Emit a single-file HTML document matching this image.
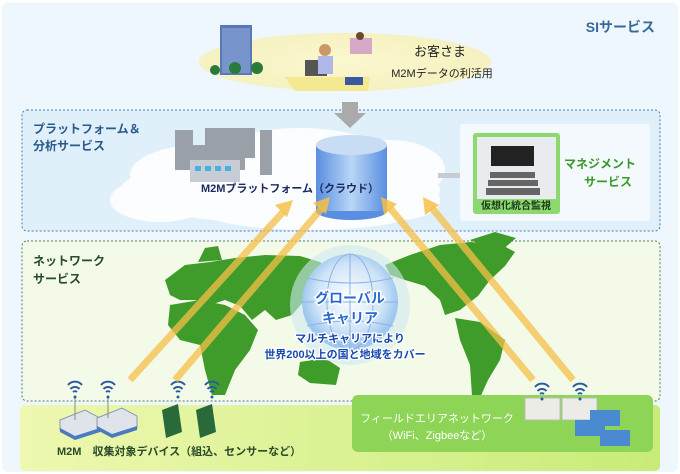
<!DOCTYPE html>
<html><head><meta charset="utf-8"><style>
body{margin:0;background:#fff;}
svg{display:block}
text{font-family:"Liberation Sans","Noto Sans CJK JP",sans-serif;}
</style></head><body>
<svg width="680" height="474" viewBox="0 0 680 474" xmlns="http://www.w3.org/2000/svg">
<defs>
<radialGradient id="ell" cx="50%" cy="50%" r="50%"><stop offset="0" stop-color="#fbf8d0"/><stop offset="1" stop-color="#f5f1c0"/></radialGradient>
<linearGradient id="cyl" x1="0" x2="1"><stop offset="0" stop-color="#5a8ee0"/><stop offset="0.5" stop-color="#b8d6f6"/><stop offset="1" stop-color="#5a8ee0"/></linearGradient>
<linearGradient id="band" x1="0" x2="1"><stop offset="0" stop-color="#eef8b0"/><stop offset="1" stop-color="#c8ec78"/></linearGradient>
<radialGradient id="globe" cx="50%" cy="45%" r="50%"><stop offset="0" stop-color="#ffffff"/><stop offset="0.7" stop-color="#cfe4f8"/><stop offset="1" stop-color="#9ec6ee"/></radialGradient>
<g id="wifi" fill="none" stroke="#2a5aa0" stroke-width="2"><path d="M-7,-4 a9,9 0 0 1 14,0"/><path d="M-4.5,0 a6,6 0 0 1 9,0"/><path d="M-2,3 a3,3 0 0 1 4,0"/><circle cx="0" cy="8" r="1.5" fill="#2a5aa0" stroke="none"/></g>
</defs>
<rect x="2" y="3" width="676" height="469" rx="6" fill="#eef7fd"/>
<text x="655" y="32" font-size="14" font-weight="bold" fill="#3a6a9a" text-anchor="end">SIサービス</text>
<ellipse cx="345" cy="62" rx="146" ry="29" fill="url(#ell)"/>
<rect x="220" y="25" width="32" height="50" fill="#5a78b8"/><rect x="222" y="28" width="28" height="45" fill="#8aa8d8" opacity=".6"/>
<circle cx="215" cy="70" r="5" fill="#2a7a3a"/><circle cx="235" cy="68" r="6" fill="#2a7a3a"/><circle cx="257" cy="68" r="6" fill="#2a7a3a"/>
<polygon points="285,77 370,77 368,91 295,91" fill="#f4e890"/>
<rect x="305" y="60" width="22" height="16" fill="#555"/><circle cx="325" cy="50" r="6" fill="#c89a6a"/><rect x="318" y="56" width="15" height="18" fill="#b0b8e8"/>
<rect x="350" y="38" width="22" height="16" fill="#d8a8c8"/><circle cx="360" cy="36" r="4" fill="#6a4a2a"/>
<rect x="345" y="77" width="18" height="8" fill="#3a5aa0"/>
<text x="440" y="56" font-size="13" fill="#222" text-anchor="middle">お客さま</text>
<text x="442" y="77" font-size="11" fill="#222" text-anchor="middle">M2Mデータの利活用</text>
<rect x="22" y="110" width="638" height="121" rx="5" fill="#dff0fb" stroke="#4a7ab0" stroke-dasharray="2,2"/>
<polygon points="342,102 358,102 358,113 366,113 350,128 334,113 342,113" fill="#aaa"/>
<text x="33" y="133" font-size="12" font-weight="bold" fill="#2a5a8a">プラットフォーム＆</text>
<text x="33" y="150" font-size="12" font-weight="bold" fill="#2a5a8a">分析サービス</text>
<g fill="#fbfdff">
<ellipse cx="280" cy="190" rx="160" ry="33"/><ellipse cx="200" cy="175" rx="70" ry="30"/><ellipse cx="300" cy="160" rx="90" ry="32"/><ellipse cx="390" cy="170" rx="55" ry="30"/><ellipse cx="160" cy="200" rx="50" ry="22"/><ellipse cx="400" cy="200" rx="40" ry="20"/><ellipse cx="310" cy="210" rx="110" ry="20"/>
</g>
<g fill="#9aa0a8"><rect x="175" y="130" width="18" height="40"/><rect x="205" y="128" width="50" height="30"/><rect x="190" y="145" width="55" height="25"/><rect x="260" y="130" width="12" height="45"/></g>
<g fill="#c8ccd4"><rect x="190" y="160" width="50" height="22"/></g>
<g fill="#4ab0e0"><rect x="195" y="166" width="6" height="5"/><rect x="205" y="166" width="6" height="5"/><rect x="215" y="166" width="6" height="5"/><rect x="225" y="166" width="6" height="5"/></g>
<ellipse cx="351.5" cy="211" rx="35.5" ry="9" fill="#5a8ee0"/>
<rect x="316" y="145" width="71" height="66" fill="url(#cyl)"/>
<ellipse cx="351.5" cy="145" rx="35.5" ry="10" fill="#c8dcf4"/>
<text x="290" y="192" font-size="11" font-weight="bold" fill="#1a2a5a" text-anchor="middle">M2Mプラットフォーム（クラウド）</text>
<rect x="438" y="173" width="35" height="5" fill="#c8ccd0"/>
<rect x="460" y="124" width="190" height="97" rx="3" fill="#f4f9fd"/>
<rect x="473" y="133" width="87" height="81" rx="3" fill="#8ed870"/>
<rect x="477" y="137" width="79" height="62" fill="#e8ecef"/>
<rect x="491" y="146" width="43" height="20" fill="#222"/>
<g fill="#666"><rect x="490" y="172" width="45" height="6"/><rect x="488" y="180" width="50" height="6"/><rect x="486" y="188" width="54" height="7"/></g>
<text x="516" y="209" font-size="10" font-weight="bold" fill="#1a3a1a" text-anchor="middle">仮想化統合監視</text>
<text x="600" y="168" font-size="12" font-weight="bold" fill="#3a9a2a" text-anchor="middle">マネジメント</text>
<text x="608" y="186" font-size="12" font-weight="bold" fill="#3a9a2a" text-anchor="middle">サービス</text>
<rect x="22" y="241" width="638" height="160" rx="5" fill="#f3fbe8" stroke="#5a7a5a" stroke-dasharray="2,2"/>
<text x="33" y="265" font-size="12" font-weight="bold" fill="#2a4a2a">ネットワーク</text>
<text x="33" y="283" font-size="12" font-weight="bold" fill="#2a4a2a">サービス</text>
<g fill="#3f9c2a">
<path d="M165,280 L185,265 L210,262 L235,258 L265,255 L300,256 L320,262 L332,272 L318,285 L305,300 L292,315 L276,320 L265,310 L252,320 L240,306 L225,300 L210,305 L195,300 L180,300 L170,295 Z"/>
<path d="M198,262 L205,248 L218,246 L222,260 Z"/>
<path d="M170,305 L200,300 L225,305 L245,315 L258,330 L250,350 L235,370 L225,395 L212,395 L205,370 L200,345 L180,340 L168,325 Z"/>
<path d="M300,362 L325,358 L340,368 L336,385 L310,383 L298,375 Z"/>
<path d="M385,265 L410,255 L440,245 L470,242 L500,244 L515,252 L505,266 L490,280 L478,296 L460,310 L445,315 L440,300 L425,286 L405,280 L390,275 Z"/>
<path d="M470,240 L495,232 L516,238 L500,252 Z"/>
<path d="M455,318 L480,322 L505,340 L500,360 L488,380 L478,402 L472,396 L470,365 L460,340 Z"/>
<path d="M318,290 L325,283 L328,298 L320,302 Z"/>
</g>
<circle cx="350" cy="305" r="60" fill="#cfeaf0" opacity=".6"/>
<circle cx="350" cy="302" r="48" fill="url(#globe)"/>
<g fill="none" stroke="#8ab4e0" stroke-width="1"><ellipse cx="350" cy="302" rx="23" ry="48"/><line x1="302" y1="302" x2="398" y2="302"/><line x1="350" y1="254" x2="350" y2="350"/><path d="M307,278 Q350,288 393,278"/><path d="M307,326 Q350,316 393,326"/></g>
<g font-size="14" font-weight="bold" fill="#2a6ad0" stroke="#fff" stroke-width="3" paint-order="stroke" text-anchor="middle">
<text x="350" y="303">グローバル</text><text x="350" y="323">キャリア</text></g>
<g font-size="11" font-weight="bold" fill="#1a4ab0" stroke="#fff" stroke-width="2.5" paint-order="stroke" text-anchor="middle">
<text x="350" y="342">マルチキャリアにより</text><text x="345" y="358">世界200以上の国と地域をカバー</text></g>
<rect x="20" y="405" width="640" height="66" rx="5" fill="url(#band)"/>
<rect x="352" y="395" width="301" height="57" rx="6" fill="#8ed456"/>
<text x="437" y="422" font-size="11" fill="#fff" text-anchor="middle">フィールドエリアネットワーク</text>
<text x="437" y="439" font-size="11" fill="#fff" text-anchor="middle">（WiFi、Zigbeeなど）</text>
<text x="57" y="455" font-size="11" font-weight="bold" fill="#2a4a2a">M2M　収集対象デバイス（組込、センサーなど）</text>
<g><polygon points="60,420 85,410 100,418 100,430 75,438 60,430" fill="#dfe4ea" stroke="#8a9ab0"/><polygon points="60,428 75,436 100,428 100,432 75,440 60,432" fill="#4a7ac0"/>
<polygon points="97,418 122,408 137,416 137,428 112,436 97,428" fill="#dfe4ea" stroke="#8a9ab0"/><polygon points="97,426 112,434 137,426 137,430 112,438 97,430" fill="#4a7ac0"/>
<line x1="75" y1="398" x2="75" y2="420" stroke="#888"/><line x1="108" y1="398" x2="108" y2="418" stroke="#888"/></g>
<g fill="#2a6a3a"><polygon points="162,410 178,404 182,432 166,438"/><polygon points="196,410 212,404 216,432 200,438"/></g>
<g fill="#ecece6" stroke="#bbb"><rect x="525" y="398" width="35" height="22"/><rect x="562" y="398" width="35" height="22"/></g>
<g fill="#4a8ad0"><rect x="575" y="420" width="30" height="16"/><rect x="590" y="410" width="30" height="16"/><rect x="600" y="430" width="30" height="16"/></g>
<use href="#wifi" x="75" y="389"/><use href="#wifi" x="108" y="389"/><use href="#wifi" x="178" y="389"/><use href="#wifi" x="212" y="389"/><use href="#wifi" x="542" y="391"/><use href="#wifi" x="580" y="391"/>
<g stroke="#f5c048" stroke-width="7" opacity=".75" fill="none">
<line x1="130" y1="380" x2="283" y2="212"/><line x1="175" y1="380" x2="322" y2="208"/><line x1="533" y1="380" x2="390" y2="208"/><line x1="573" y1="380" x2="432" y2="208"/>
</g>
<g fill="#f5c048" opacity=".85">
<polygon points="293,200 275,205 287,217"/><polygon points="330,197 313,203 326,214"/><polygon points="381,197 384,215 397,204"/><polygon points="423,197 425,215 439,205"/>
</g>
</svg>
</body></html>
